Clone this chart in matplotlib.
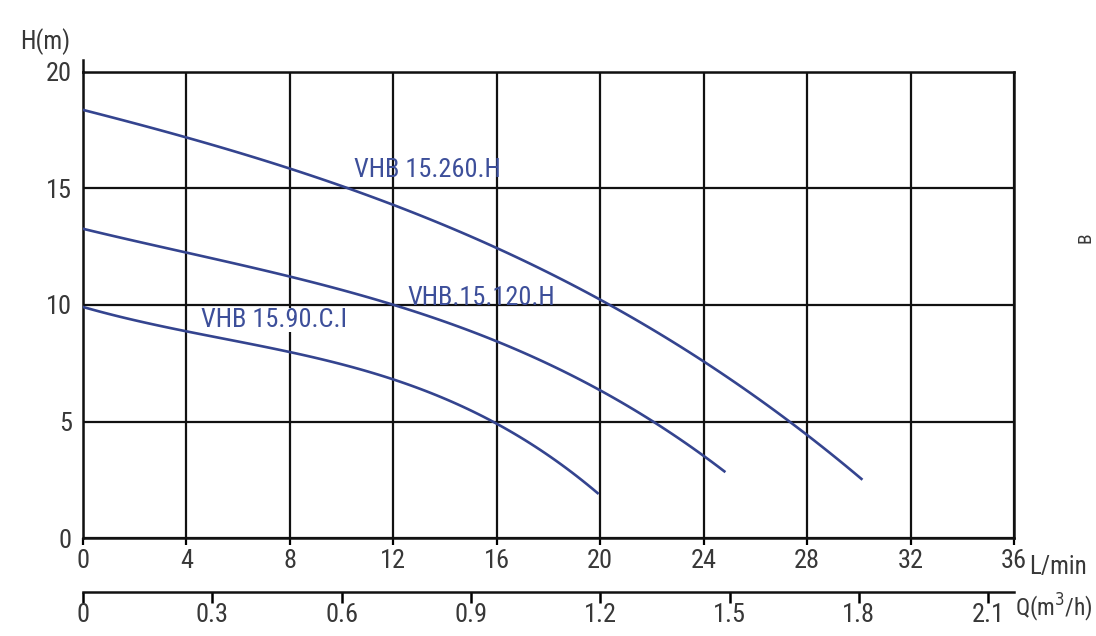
import matplotlib
matplotlib.use('Agg')
import matplotlib.pyplot as plt
import numpy as np

plt.rcParams['font.family'] = ['Roboto Condensed', 'Roboto', 'DejaVu Sans']
plt.rcParams['font.stretch'] = 'condensed'

# pump curves, Q in L/min, H in m
q_260 = [0, 4, 8, 12, 16, 20, 24, 28, 30.1]
h_260 = [18.3, 17.3, 15.9, 14.2, 12.4, 10.2, 7.6, 4.6, 2.4]
q_120 = [0, 4, 8, 12, 16, 20, 24, 24.8]
h_120 = [13.2, 12.4, 11.2, 9.9, 8.4, 6.4, 3.8, 2.6]
q_90 = [0, 4, 8, 12, 16, 19.9]
h_90 = [9.9, 8.9, 8.0, 6.7, 5.0, 1.9]

names = ['VHB 15.260.H', 'VHB.15.120.H', 'VHB 15.90.C.I']
label_pos = [(13.3, 15.8), (15.4, 10.3), (7.4, 9.35)]

lmin_ticks = [0, 4, 8, 12, 16, 20, 24, 28, 32, 36]
m3h_ticks = [0, 0.3, 0.6, 0.9, 1.2, 1.5, 1.8, 2.1]
h_ticks = [0, 5, 10, 15, 20]

blue = '#34448f'
txt = '#383838'
fs = 19

fig = plt.figure(figsize=(10.96, 6.36), dpi=100)
ax = fig.add_axes([0.0757, 0.154, 0.8495, 0.733])

for q, h in [(q_260, h_260), (q_120, h_120), (q_90, h_90)]:
    # smooth the read-off points a little
    c = np.polyfit(q, h, 3)
    qq = np.linspace(q[0], q[-1], 100)
    ax.plot(qq, np.polyval(c, qq), color=blue, lw=1.9, zorder=3)

for name, (x, y) in zip(names, label_pos):
    bb = dict(facecolor='white', edgecolor='none', pad=0.0) if name.endswith('C.I') else None
    ax.text(x, y, name, color='#3d4f9a', fontsize=fs, ha='center', va='center',
            bbox=bb, zorder=2)

ax.set_xlim(0, 36)
ax.set_ylim(0, 20)
ax.set_xticks(lmin_ticks)
ax.set_yticks(h_ticks)
ax.grid(True, color='#111111', lw=1.6, zorder=1)
ax.set_axisbelow(True)
for s in ax.spines.values():
    s.set_linewidth(1.8)
    s.set_color('#111111')
ax.tick_params(axis='x', direction='out', length=5, width=1.6, pad=3,
               labelsize=fs, labelcolor=txt)
ax.tick_params(axis='y', direction='out', length=0, pad=8,
               labelsize=fs, labelcolor=txt)

# second flow scale in m3/h
sec = ax.secondary_xaxis(-0.116, functions=(lambda x: x * 0.06, lambda q: q / 0.06))
sec.set_xticks(m3h_ticks)
sec.set_xticklabels(['0', '0.3', '0.6', '0.9', '1.2', '1.5', '1.8', '2.1'])
sec.spines['bottom'].set_linewidth(1.8)
sec.spines['bottom'].set_color('#111111')
sec.tick_params(direction='out', length=8, width=1.8, pad=0, labelsize=fs, labelcolor=txt)

fig.text(0.018, 0.935, 'H(m)', fontsize=fs - 1, color=txt, ha='left', va='center')
fig.text(0.939, 0.108, 'L/min', fontsize=fs - 1, color=txt, ha='left', va='center')
fig.text(0.926, 0.045, 'Q(m$^3$/h)', fontsize=fs - 2, color=txt, ha='left', va='center')
fig.text(0.99, 0.627, 'B', fontsize=14, color=txt, rotation=90, ha='center', va='center')

# left axis line sticks out a bit above the frame
ax.plot([0, 0], [20, 20.5], color='#111111', lw=1.8, clip_on=False)

fig.savefig('out.png', dpi=100)
